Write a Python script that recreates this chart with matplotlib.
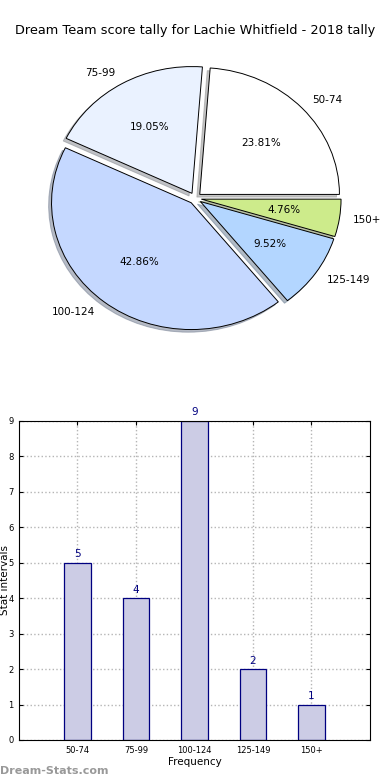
import matplotlib
matplotlib.use('Agg')
import matplotlib.pyplot as plt

# score bands and how many games fell in each
bands = ['50-74', '75-99', '100-124', '125-149', '150+']
counts = [5, 4, 9, 2, 1]
pie_colors = ['#ffffff', '#eaf2ff', '#c5d8ff', '#b3d6ff', '#cdeb8b']

fig = plt.figure(figsize=(3.9, 7.8), dpi=100)
fig.text(0.5, 0.961, 'Dream Team score tally for Lachie Whitfield - 2018 tally',
         ha='center', va='center', fontsize=9.3)

# pie on the top half (old style: not forced to a circle)
ax1 = fig.add_axes([0, 0.5, 1, 0.5])
ax1.pie(counts, labels=bands, colors=pie_colors, autopct='%.2f%%',
        explode=[0.045] * len(counts),
        shadow={'ox': -0.015, 'oy': -0.015, 'shade': 0.45},
        startangle=0,
        wedgeprops={'edgecolor': 'black', 'linewidth': 0.7},
        textprops={'fontsize': 7.5})
ax1.set_aspect('auto')
ax1.set_xlim(-1.397, 1.395)
ax1.set_ylim(-1.512, 1.564)
ax1.axis('off')

# bar chart on the bottom
ax2 = fig.add_axes([0.0487, 0.0513, 0.9, 0.409])
x = range(len(bands))
ax2.bar(x, counts, width=0.45, color='#ccccE5', edgecolor='#000080',
        linewidth=0.9, zorder=2)
for i, c in zip(x, counts):
    ax2.text(i, c + 0.1, str(c), ha='center', va='bottom', fontsize=7.5,
             color='#000080')
ax2.set_xlim(-1, 5)
ax2.set_ylim(0, 9)
ax2.set_xticks(list(x))
ax2.set_xticklabels(bands)
ax2.set_yticks(range(10))
ax2.tick_params(direction='in', top=True, right=True, labelsize=6, length=3, pad=4)
ax2.grid(True, linestyle=':', color='#b5b5b5', linewidth=1, zorder=0)
ax2.set_axisbelow(True)
ax2.set_xlabel('Frequency', fontsize=7.5, labelpad=2)
ax2.set_ylabel('Stat intervals', fontsize=7.5)
ax2.yaxis.set_label_coords(-0.027, 0.5)

fig.text(0.0, 0.012, 'Dream-Stats.com', fontsize=8, color='#999999',
         fontweight='bold', ha='left', va='center')

fig.savefig('out.png', dpi=100)
